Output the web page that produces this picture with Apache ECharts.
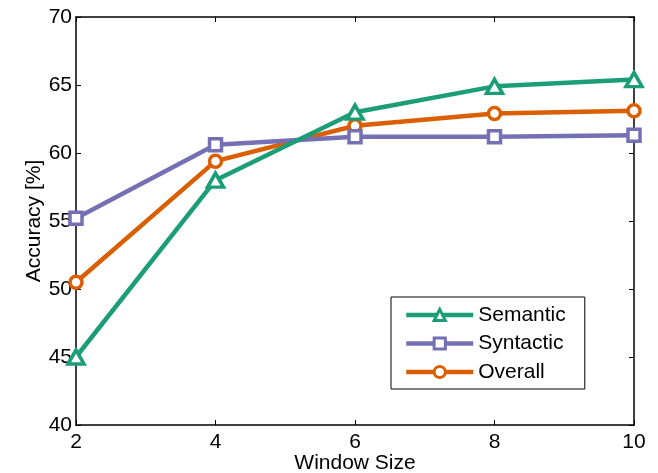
<!DOCTYPE html>
<html>
<head>
<meta charset="utf-8">
<script src="https://cdn.jsdelivr.net/npm/echarts@6/dist/echarts.min.js"></script>
<style>html,body{margin:0;padding:0;background:#fff;}#c{width:658px;height:473px;}</style>
</head>
<body>
<div id="c"></div>
<script>
var windowSizes = [2, 4, 6, 8, 10];
var semantic = [45.0, 58.0, 63.0, 64.9, 65.4];
var syntactic = [55.2, 60.6, 61.2, 61.2, 61.3];
var overall = [50.5, 59.4, 62.0, 62.9, 63.1];
var seriesNames = ['Semantic', 'Syntactic', 'Overall'];
var xTicks = [2, 4, 6, 8, 10];
var yTicks = [40, 45, 50, 55, 60, 65, 70];

function pairs(vals) { return windowSizes.map(function (x, i) { return [x, vals[i]]; }); }

var FONT = 'Liberation Sans, Arial, Helvetica, sans-serif';
var colors = ['#1b9e77', '#7570b3', '#d95f02'];
var symbols = ['triangle', 'rect', 'circle'];
var sizes = [[16, 14], 12, 12];

function mkSeries(idx, vals) {
  return {
    name: seriesNames[idx], type: 'line', data: pairs(vals),
    clip: false, z: 3 + (2 - idx),
    symbol: symbols[idx], symbolSize: sizes[idx], showAllSymbol: true,
    lineStyle: { color: colors[idx], width: 4.5 },
    itemStyle: { color: '#fff', borderColor: colors[idx], borderWidth: 3.5 },
    emphasis: { disabled: true }, animation: false
  };
}

var axisLine = { show: true, lineStyle: { color: '#000', width: 1.5 } };
var tick = { show: true, inside: true, length: 5, lineStyle: { color: '#000', width: 1 } };

var chart = echarts.init(document.getElementById('c'));
chart.setOption({
  animation: false,
  grid: { left: 76, right: 24, top: 17, bottom: 48, containLabel: false, outerBoundsMode: 'none' },
  legend: {
    data: seriesNames, orient: 'vertical', left: 391, top: 297,
    itemWidth: 67, itemHeight: 14, itemGap: 7.5,
    padding: [7.5, 19, 6.5, 13],
    borderColor: '#000', borderWidth: 1, backgroundColor: '#fff',
    lineStyle: { width: 4.5 },
    itemStyle: { borderWidth: 3 },
    textStyle: { color: '#000', fontFamily: FONT, fontSize: 21, lineHeight: 21 }
  },
  xAxis: [{
    type: 'value', min: xTicks[0], max: xTicks[xTicks.length - 1], interval: 2,
    name: 'Window Size', nameLocation: 'middle', nameGap: 28, nameMoveOverlap: false,
    nameTextStyle: { color: '#000', fontFamily: FONT, fontSize: 21, verticalAlign: 'top' },
    axisLine: axisLine, axisTick: tick, splitLine: { show: false },
    axisLabel: { color: '#000', fontFamily: FONT, fontSize: 21, margin: 7 }
  }, {
    type: 'value', position: 'top', min: xTicks[0], max: xTicks[xTicks.length - 1], interval: 2,
    axisLine: axisLine, axisTick: tick, splitLine: { show: false }, axisLabel: { show: false }
  }],
  yAxis: [{
    type: 'value', min: yTicks[0], max: yTicks[yTicks.length - 1], interval: 5,
    name: 'Accuracy [%]', nameLocation: 'middle', nameGap: 31, nameMoveOverlap: false,
    nameTextStyle: { color: '#000', fontFamily: FONT, fontSize: 21 },
    axisLine: axisLine, axisTick: tick, splitLine: { show: false },
    axisLabel: { color: '#000', fontFamily: FONT, fontSize: 21, margin: 4 }
  }, {
    type: 'value', position: 'right', min: yTicks[0], max: yTicks[yTicks.length - 1], interval: 5,
    axisLine: axisLine, axisTick: tick, splitLine: { show: false }, axisLabel: { show: false }
  }],
  series: [mkSeries(0, semantic), mkSeries(1, syntactic), mkSeries(2, overall)]
});
</script>
</body>
</html>
